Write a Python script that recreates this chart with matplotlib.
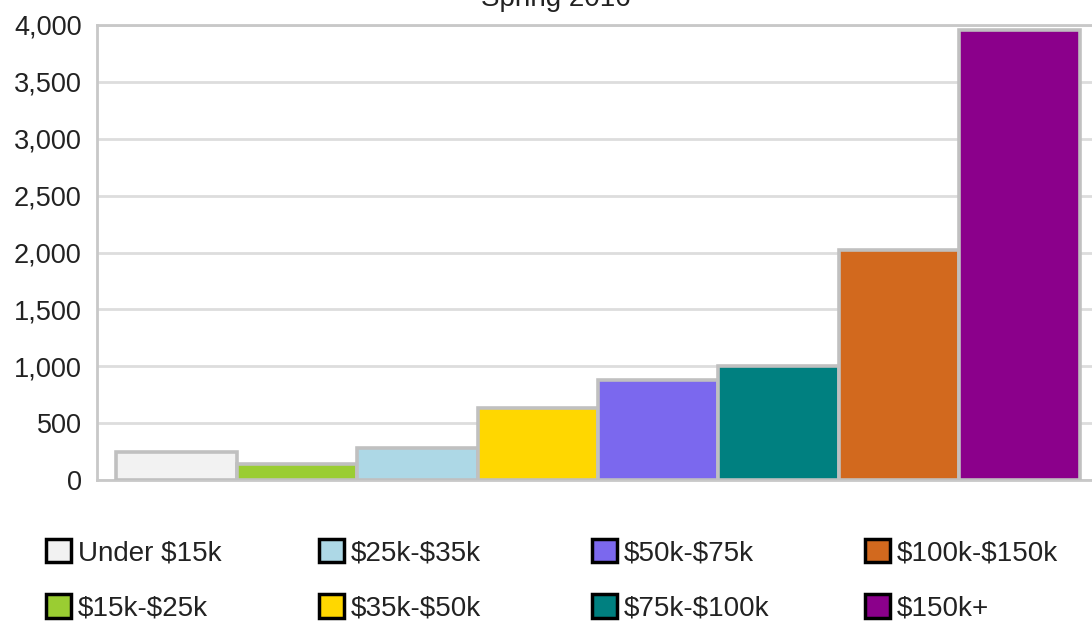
import matplotlib.pyplot as plt
from matplotlib.patches import Patch
from matplotlib.ticker import FuncFormatter, MultipleLocator

plt.rcParams['font.family'] = ['Liberation Sans', 'DejaVu Sans']
plt.rcParams['text.parse_math'] = False

income_bands = ['Under $15k', '$15k-$25k', '$25k-$35k', '$35k-$50k',
                '$50k-$75k', '$75k-$100k', '$100k-$150k', '$150k+']
counts = [250, 140, 280, 635, 880, 1000, 2025, 3955]
colors = ['#f2f2f2', '#9acd32', '#add8e6', '#ffd700',
          '#7b68ee', '#008080', '#d2691e', '#8b008b']

W, H = 1092, 644
fig = plt.figure(figsize=(W / 100, H / 100), dpi=100)
# plot box runs past the right edge of the image, like the original
ax = fig.add_axes([97 / W, (H - 480) / H, (1099 - 97) / W, (480 - 25) / H])

x = list(range(len(counts)))
ax.bar(x, counts, width=1.0, color=colors, edgecolor='#c0c0c0', linewidth=2.6, zorder=3)

ax.set_xlim(-0.658, 7.658)
ax.set_ylim(0, 4000)
ax.yaxis.set_major_locator(MultipleLocator(500))
ax.yaxis.set_major_formatter(FuncFormatter(lambda v, p: '{:,.0f}'.format(v)))
ax.set_xticks([])
ax.tick_params(axis='y', length=0, pad=11, labelsize=19.5, labelcolor='#222222')
ax.grid(axis='y', color='#dddddd', linewidth=2, zorder=0)
for s in ax.spines.values():
    s.set_color('#c8c8c8')
    s.set_linewidth(2)

fig.text(556 / W, 1 - 6 / H, 'Spring 2016', ha='center', va='baseline',
         fontsize=20, color='#222222')

# legend laid out in four columns of two
col_x = [46, 319, 592, 865]
for c in range(4):
    handles = [Patch(facecolor=colors[i], edgecolor='black', linewidth=2.5)
               for i in (2 * c, 2 * c + 1)]
    labels = [income_bands[i] for i in (2 * c, 2 * c + 1)]
    fig.legend(handles, labels, loc='upper left',
               bbox_to_anchor=(col_x[c] / W, 1 - 539 / H),
               frameon=False, fontsize=20, handlelength=0.9, handleheight=0.9,
               handletextpad=0.25, labelspacing=1.02, borderpad=0, borderaxespad=0,
               labelcolor='#222222')

fig.savefig('out.png', dpi=100)
